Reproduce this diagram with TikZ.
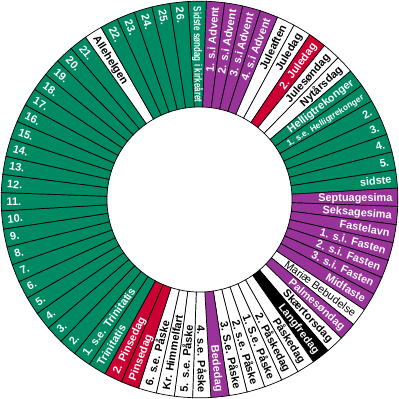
\documentclass[tikz,border=0pt]{standalone}
\usepackage{fontspec}
\setmainfont{Liberation Sans}
\usepackage{tikz}
\usetikzlibrary{calc}
\definecolor{kgreen}{RGB}{0,138,99}
\definecolor{kpurple}{RGB}{153,51,153}
\definecolor{kred}{RGB}{204,0,51}
\colorlet{kwhite}{white}
\tikzset{
  sector/.style={draw=black, line width=0.5pt},
  daylabel/.style={inner sep=0.5pt, font=\fontsize{7.8}{9}\selectfont\bfseries}
}
\newcommand{\rin}{2.32}
\newcommand{\rout}{4.97}
\newcommand{\wstep}{5.294118}

\begin{document}
\begin{tikzpicture}
  \useasboundingbox (-5,-5) rectangle (5,5);
  % one sector per sunday / holiday, clockwise from the top
  \foreach \fc/\tc/\lbl [count=\k from 0] in {
    kgreen/white/{\scalebox{0.74}[1]{Sidste søndag i kirkeåret}},
    kpurple/white/1. s.i Advent, kpurple/white/2. s.i Advent,
    kpurple/white/3. s.i Advent, kpurple/white/4. s.i Advent,
    kwhite/black/Juleaften, kwhite/black/Juledag, kred/white/2. Juledag,
    kwhite/black/Julesøndag, kwhite/black/Nytårsdag,
    kgreen/white/Helligtrekonger,
    kgreen/white/{\fontsize{6}{7}\selectfont 1. s.e. Helligtrekonger},
    kgreen/white/2., kgreen/white/3., kgreen/white/4., kgreen/white/5.,
    kgreen/white/sidste,
    kpurple/white/Septuagesima, kpurple/white/Seksagesima,
    kpurple/white/Fastelavn, kpurple/white/1. s.i. Fasten,
    kpurple/white/2. s.i. Fasten, kpurple/white/3. s.i. Fasten,
    kpurple/white/Midfaste,
    kwhite/black/{\mdseries Mariæ Bebudelse},
    kpurple/white/Palmesøndag, kwhite/black/Skærtorsdag,
    black/white/Langfredag, kwhite/black/Påskedag, kwhite/black/2. Påskedag,
    kwhite/black/1. S.e. Påske, kwhite/black/2. s.e. Påske,
    kwhite/black/3. S.e. Påske, kpurple/white/Bededag,
    kwhite/black/4. s.e. Påske, kwhite/black/5. s.e. Påske,
    kwhite/black/Kr. Himmelfart, kwhite/black/6. s.e. Påske,
    kred/white/Pinsedag, kred/white/2. Pinsedag,
    kgreen/white/Trinitatis, kgreen/white/1. s.e. Trinitatis,
    kgreen/white/2., kgreen/white/3., kgreen/white/4., kgreen/white/5.,
    kgreen/white/6., kgreen/white/7., kgreen/white/8., kgreen/white/9.,
    kgreen/white/10., kgreen/white/11., kgreen/white/12., kgreen/white/13.,
    kgreen/white/14., kgreen/white/15., kgreen/white/16., kgreen/white/17.,
    kgreen/white/18., kgreen/white/19., kgreen/white/20., kgreen/white/21.,
    kwhite/black/Allehelgen,
    kgreen/white/22., kgreen/white/23., kgreen/white/24., kgreen/white/25.,
    kgreen/white/26.}
  {
    \pgfmathsetmacro\a{88-\k*\wstep}
    \pgfmathsetmacro\b{\a+\wstep}
    \pgfmathsetmacro\c{\a+\wstep/2}
    \draw[sector, fill=\fc] (\a:\rin) arc (\a:\b:\rin) -- (\b:\rout) arc (\b:\a:\rout) -- cycle;
    \pgfmathparse{cos(\c)>=0 ? 1 : 0}
    \ifnum\pgfmathresult=1
      \node[daylabel, text=\tc, rotate=\c, anchor=mid east] (s\k) at (\c:\rout-0.11) {\lbl};
    \else
      \node[daylabel, text=\tc, rotate=\c+180, anchor=mid west] (s\k) at (\c:\rout-0.11) {\lbl};
    \fi
  }
\end{tikzpicture}
\end{document}
